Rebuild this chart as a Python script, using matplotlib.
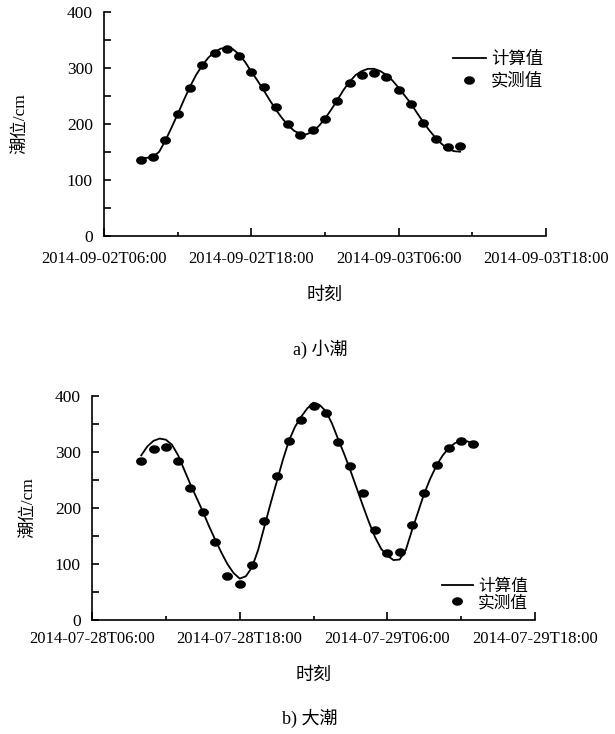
import numpy as np
import pandas as pd
import matplotlib
matplotlib.use("Agg")
import matplotlib.pyplot as plt
import matplotlib.dates as mdates
from matplotlib.path import Path
from matplotlib.ticker import MultipleLocator

plt.rcParams['font.family'] = ['Liberation Serif', 'Noto Sans CJK SC']

# a) 小潮 2014-09-02 / 03
obs_a_start = '2014-09-02 09:00'
obs_a = [135, 141, 170, 217, 264, 304, 326, 333, 321, 293, 265, 230, 199, 180,
         188, 208, 240, 273, 287, 290, 283, 260, 235, 201, 173, 159, 161]
calc_a_start = '2014-09-02 09:00'
calc_a = [139, 139, 141, 150, 170, 193, 217, 242, 266, 287, 304, 318, 328, 334,
          336, 333, 324, 310, 293, 277, 260, 242, 225, 210, 197, 187, 182, 181,
          186, 196, 209, 225, 242, 260, 275, 287, 294, 298, 298, 294, 287, 277,
          264, 250, 236, 219, 203, 188, 175, 164, 155, 151, 150]
xlim_a = ('2014-09-02 06:00', '2014-09-03 18:00')

# b) 大潮 2014-07-28 / 29
obs_b_start = '2014-07-28 10:00'
obs_b = [284, 305, 309, 284, 236, 193, 139, 79, 65, 99, 177, 258, 320, 357,
         383, 370, 318, 275, 226, 160, 120, 122, 170, 226, 276, 307, 320, 314]
calc_b_start = '2014-07-28 10:00'
calc_b = [294, 310, 320, 324, 322, 313, 294, 268, 242, 218, 194, 168, 144, 121,
          100, 84, 74, 78, 94, 125, 166, 207, 246, 285, 320, 345, 363, 378,
          388, 384, 373, 351, 323, 296, 267, 236, 205, 175, 148, 127, 115, 107,
          108, 125, 160, 193, 226, 253, 276, 294, 307, 316, 320, 319, 315]
xlim_b = ('2014-07-28 06:00', '2014-07-29 18:00')

# 椭圆形的点（原图点稍扁）
t = np.linspace(0, 2 * np.pi, 40)
dot = Path(np.column_stack([np.cos(t), 0.75 * np.sin(t)]), closed=True)

fig = plt.figure(figsize=(6.15, 7.34), dpi=100)
ax_a = fig.add_axes([104 / 615, 1 - 235.7 / 734, 442 / 615, 224 / 734])
ax_b = fig.add_axes([92 / 615, 1 - 620 / 734, 443 / 615, 224 / 734])


def draw(ax, obs_start, obs, calc_start, calc, xlim, xpad, leg_anchor, leg_size, leg_space):
    t_obs = pd.date_range(obs_start, periods=len(obs), freq='1h')
    t_calc = pd.date_range(calc_start, periods=len(calc), freq='30min')
    ax.plot(t_calc, calc, color='black', lw=1.3, label='计算值')
    ax.plot(t_obs, obs, ls='none', marker=dot, ms=6.8, color='black', label='实测值')

    ax.set_xlim(pd.Timestamp(xlim[0]), pd.Timestamp(xlim[1]))
    ax.set_ylim(0, 400)
    ax.xaxis.set_major_locator(mdates.HourLocator(byhour=[6, 18]))
    ax.xaxis.set_minor_locator(mdates.HourLocator(byhour=[0, 12]))
    ax.xaxis.set_major_formatter(mdates.DateFormatter('%Y-%m-%dT%H:%M'))
    ax.yaxis.set_major_locator(MultipleLocator(100))
    ax.yaxis.set_minor_locator(MultipleLocator(50))

    for s in ['top', 'right']:
        ax.spines[s].set_visible(False)
    for s in ['left', 'bottom']:
        ax.spines[s].set_linewidth(1.2)
    ax.tick_params(which='both', direction='in', width=1.2)
    ax.tick_params(axis='x', which='major', length=5.5, labelsize=12, pad=xpad)
    ax.tick_params(axis='x', which='minor', length=3)
    ax.tick_params(axis='y', which='both', length=5, labelsize=12.5, pad=8)

    ax.set_ylabel('潮位/cm', fontsize=12.5)
    ax.set_xlabel('时刻', fontsize=13)

    ax.legend(loc='upper left', bbox_to_anchor=leg_anchor, frameon=False,
              fontsize=leg_size, borderpad=0, borderaxespad=0,
              handlelength=1.9, handletextpad=0.3, labelspacing=leg_space)


draw(ax_a, obs_a_start, obs_a, calc_a_start, calc_a, xlim_a, 11, (0.789, 0.822), 12.5, 0.3)
draw(ax_b, obs_b_start, obs_b, calc_b_start, calc_b, xlim_b, 8, (0.789, 0.182), 12, 0.0)

ax_a.yaxis.set_label_coords(-0.17, 0.5)
ax_b.yaxis.set_label_coords(-0.125, 0.5)
ax_a.xaxis.set_label_coords(0.5, -0.23)
ax_b.xaxis.set_label_coords(0.5, -0.21)

fig.text(320 / 615, 1 - 349 / 734, 'a) 小潮', ha='center', va='center', fontsize=13)
fig.text(310 / 615, 1 - 718 / 734, 'b) 大潮', ha='center', va='center', fontsize=13)

fig.savefig('out.png', dpi=100)
